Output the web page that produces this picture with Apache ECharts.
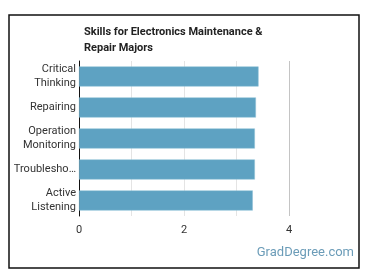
<!DOCTYPE html>
<html>
<head>
<meta charset="utf-8">
<script src="https://cdn.jsdelivr.net/npm/echarts@6/dist/echarts.min.js"></script>
<style>
  html, body { margin: 0; padding: 0; background: #fff; }
  #chart { width: 370px; height: 278px; }
</style>
</head>
<body>
<div id="chart"></div>
<script>
var skills = ['Critical\nThinking', 'Repairing', 'Operation\nMonitoring', 'Troubleshooting', 'Active\nListening'];
var scores = [3.42, 3.37, 3.35, 3.35, 3.31];
var xTicks = [0, 2, 4];

var chart = echarts.init(document.getElementById('chart'));
var option = {
    animation: false,
    textStyle: { fontFamily: 'Roboto' },
    title: {
        text: 'Skills for Electronics Maintenance &\nRepair Majors',
        left: 79,
        top: 19,
        textStyle: { fontSize: 11, fontWeight: 'bold', color: '#222', lineHeight: 16 }
    },
    graphic: [
        {
            type: 'rect',
            shape: { x: 9, y: 15, width: 350, height: 253 },
            style: { fill: 'none', stroke: '#111', lineWidth: 1.5 },
            silent: true
        },
        {
            type: 'text',
            right: 16,
            top: 246,
            style: { text: 'GradDegree.com', fill: '#6b9cb8', font: '13px Roboto' }
        }
    ],
    grid: { left: 79, right: 81, top: 61, bottom: 62 },
    xAxis: {
        type: 'value',
        min: 0,
        max: 4,
        interval: 1,
        axisLine: { show: false },
        axisTick: { show: false },
        axisLabel: {
            color: '#333',
            fontSize: 11,
            margin: 9,
            formatter: function (v) { return xTicks.indexOf(v) >= 0 ? String(v) : ''; }
        },
        splitLine: {
            lineStyle: { color: ['#e4e4e4', '#e4e4e4', '#e4e4e4', '#e4e4e4', '#c4c4c4'], width: 1 }
        }
    },
    yAxis: {
        type: 'category',
        inverse: true,
        data: skills,
        axisLine: { show: true, lineStyle: { color: '#111', width: 1 } },
        axisTick: { show: false },
        axisLabel: {
            color: '#333',
            fontSize: 11,
            lineHeight: 14,
            margin: 3,
            width: 64,
            overflow: 'truncate',
            ellipsis: '…'
        }
    },
    series: [{
        type: 'bar',
        data: scores,
        barCategoryGap: '35%',
        itemStyle: { color: '#5ea2c2', borderColor: '#8fc0d6', borderWidth: 0.5 }
    }]
};
chart.setOption(option);
</script>
</body>
</html>
